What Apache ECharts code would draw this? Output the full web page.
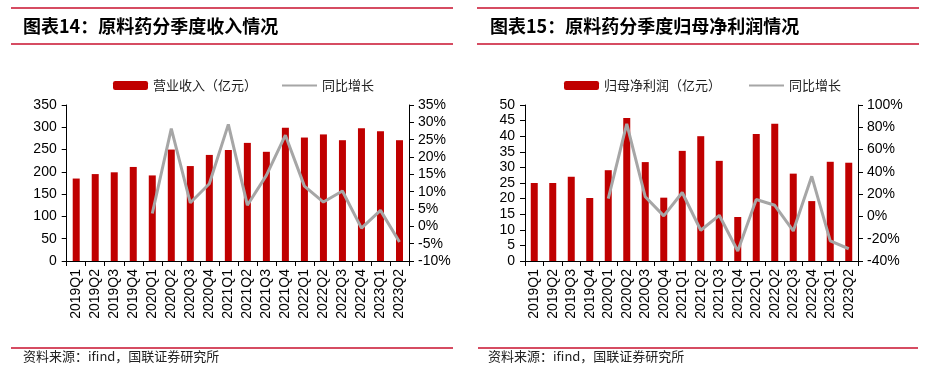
<!DOCTYPE html>
<html><head><meta charset="utf-8">
<script src="https://cdn.jsdelivr.net/npm/echarts@6/dist/echarts.min.js"></script>
<style>html,body{margin:0;padding:0;background:#fff}#c{width:950px;height:371px}</style>
</head><body><div id="c"></div>
<script>
const categories = ['2019Q1','2019Q2','2019Q3','2019Q4','2020Q1','2020Q2','2020Q3','2020Q4','2021Q1','2021Q2','2021Q3','2021Q4','2022Q1','2022Q2','2022Q3','2022Q4','2023Q1','2023Q2'];
const revenue = [185,195,199,211,192,250,213,238,249,265,245,299,277,284,271,298,291,271];
const revenueYoY = [null,null,null,null,3.7,28.2,6.8,12.3,29.4,6.1,14.7,26.3,11.6,7.0,10.2,-0.5,4.6,-4.5];
const profit = [25,25,27,20.2,29.1,45.8,31.7,20.3,35.3,40.0,32.1,14.1,40.7,44.0,28.0,19.2,31.8,31.5];
const profitYoY = [null,null,null,null,16,83,17.6,0.5,21.5,-12.4,1,-31,15.2,10,-13,36,-22,-29];
const titleLeft = '图表14：原料药分季度收入情况';
const titleRight = '图表15：原料药分季度归母净利润情况';
const sourceText = '资料来源：ifind，国联证券研究所';

const RED = '#C00000', GRAY = '#A6A6A6', LINE = '#C8102E';
const F = '"Liberation Sans", Arial, sans-serif';
const CJK = '"Noto Sans CJK SC", sans-serif';
const chart = echarts.init(document.getElementById('c'));

function xAx(gi){return {type:'category',gridIndex:gi,data:categories,
  axisLine:{lineStyle:{color:'#000',width:1}},
  axisTick:{show:true,length:5,lineStyle:{color:'#000'}},
  axisLabel:{rotate:90,fontSize:14,color:'#000',fontFamily:F,margin:8,interval:0}};}
function yAx(gi,min,max,intv,pos,pct){return {type:'value',gridIndex:gi,min:min,max:max,interval:intv,position:pos,
  splitLine:{show:false},
  axisLine:{show:true,lineStyle:{color:'#000',width:1}},
  axisTick:{show:true,length:5,lineStyle:{color:'#000'}},
  axisLabel:{fontSize:14,color:'#000',fontFamily:F,margin:pos==='left'?10:9,formatter:pct?'{value}%':'{value}'}};}

const legText = {fontSize:13,color:'#222',fontFamily:CJK};
const hideSym = {opacity:0};
chart.setOption({
  animation:false,
  grid:[{left:66.7,right:541,top:105,bottom:110},{left:525,right:92,top:105,bottom:110}],
  legend:[
    {left:108,top:74,itemWidth:35,itemHeight:9,itemGap:24,textStyle:legText,data:[{name:'营业收入（亿元）'},{name:'同比增长',itemStyle:hideSym}]},
    {left:559,top:74,itemWidth:35,itemHeight:9,itemGap:27,textStyle:legText,data:[{name:'归母净利润（亿元）'},{name:'同比增长 ',itemStyle:hideSym}]}
  ],
  xAxis:[xAx(0),xAx(1)],
  yAxis:[yAx(0,0,350,50,'left',false),yAx(0,-10,35,5,'right',true),yAx(1,0,50,5,'left',false),yAx(1,-40,100,20,'right',true)],
  series:[
    {name:'营业收入（亿元）',type:'bar',xAxisIndex:0,yAxisIndex:0,data:revenue,barWidth:7,itemStyle:{color:RED}},
    {name:'同比增长',type:'line',xAxisIndex:0,yAxisIndex:1,data:revenueYoY,showSymbol:false,symbol:'none',lineStyle:{color:GRAY,width:3},itemStyle:{color:GRAY}},
    {name:'归母净利润（亿元）',type:'bar',xAxisIndex:1,yAxisIndex:2,data:profit,barWidth:7,itemStyle:{color:RED}},
    {name:'同比增长 ',type:'line',xAxisIndex:1,yAxisIndex:3,data:profitYoY,showSymbol:false,symbol:'none',lineStyle:{color:GRAY,width:3},itemStyle:{color:GRAY}}
  ],
  graphic:[
    {type:'line',shape:{x1:11,y1:8,x2:453,y2:8},style:{stroke:LINE,lineWidth:1.5}},
    {type:'line',shape:{x1:11,y1:44,x2:453,y2:44},style:{stroke:LINE,lineWidth:1.5}},
    {type:'line',shape:{x1:11,y1:348,x2:453,y2:348},style:{stroke:LINE,lineWidth:1.5}},
    {type:'line',shape:{x1:477,y1:8,x2:919,y2:8},style:{stroke:LINE,lineWidth:1.5}},
    {type:'line',shape:{x1:477,y1:44,x2:919,y2:44},style:{stroke:LINE,lineWidth:1.5}},
    {type:'line',shape:{x1:478,y1:348,x2:918,y2:348},style:{stroke:LINE,lineWidth:1.5}},
    {type:'text',left:23,top:17,style:{text:titleLeft,font:'bold 18px '+CJK,fill:'#000'}},
    {type:'text',left:490,top:17,style:{text:titleRight,font:'bold 18px '+CJK,fill:'#000'}},
    {type:'text',left:23,top:350,style:{text:sourceText,font:'13px '+CJK,fill:'#222'}},
    {type:'text',left:488,top:350,style:{text:sourceText,font:'13px '+CJK,fill:'#222'}}
  ]
});
</script></body></html>
